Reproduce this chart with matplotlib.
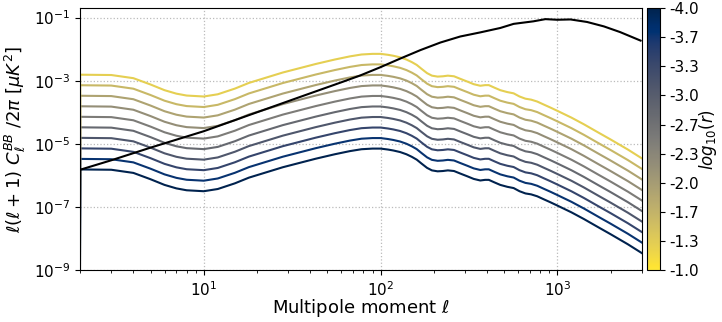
import numpy as np
import matplotlib
matplotlib.use("Agg")
import matplotlib.pyplot as plt
from matplotlib import cm
from matplotlib.colors import Normalize
from matplotlib.ticker import NullLocator

# multipoles for the primordial (tensor) B-mode template, ell=1 has no power
ell_tensor = [1, 2, 3, 4, 5, 6, 7, 8, 10, 12, 15, 18, 28, 43, 55, 67, 78, 90, 100,
              110, 118, 129, 140, 150, 160, 170, 183, 195, 210, 225, 240, 260, 282,
              310, 336, 366, 390, 409, 440, 475, 520, 565, 610, 659, 710, 768, 840,
              912, 995, 1200, 1410, 1700, 1995, 2500, 3000]
# log10 of l(l+1)C_l/2pi for r = 0.1
logdl_tensor_r01 = [None, -2.81, -2.82, -2.92, -3.12, -3.30, -3.41, -3.47, -3.50,
                    -3.43, -3.25, -3.07, -2.74, -2.47, -2.33, -2.23, -2.17, -2.15,
                    -2.15, -2.18, -2.21, -2.26, -2.33, -2.41, -2.50, -2.62, -2.76,
                    -2.84, -2.87, -2.86, -2.84, -2.86, -2.94, -3.03, -3.11, -3.16,
                    -3.14, -3.14, -3.22, -3.30, -3.36, -3.40, -3.50, -3.57, -3.60,
                    -3.66, -3.76, -3.85, -3.95, -4.17, -4.38, -4.64, -4.86, -5.18,
                    -5.46]

# lensing B-modes
ell_lens = [1, 2, 3, 5, 10, 20, 40, 60, 77, 99, 129, 168, 218, 282, 366, 475, 565,
            730, 855, 995, 1185, 1470, 1830, 2260, 2950]
logdl_lens = [None, -5.82, -5.52, -5.12, -4.60, -4.00, -3.40, -3.05, -2.83, -2.58,
              -2.30, -2.03, -1.79, -1.60, -1.47, -1.33, -1.20, -1.12, -1.05, -1.07,
              -1.06, -1.14, -1.28, -1.46, -1.73]

log_r = np.linspace(-4, -1, 10)
y_ticks = [1e-9, 1e-7, 1e-5, 1e-3, 1e-1]


def to_dl(logs):
    return np.array([0.0 if v is None else 10 ** v for v in logs])


dl_r01 = to_dl(logdl_tensor_r01)
dl_lens = to_dl(logdl_lens)

fig = plt.figure(figsize=(7.22, 3.22), dpi=100)
ax = fig.add_axes([0.111, 0.161, 0.778, 0.814])
cax = fig.add_axes([0.896, 0.161, 0.018, 0.814])

norm = Normalize(vmin=-4, vmax=-1)
cmap = plt.get_cmap("cividis")
colors = cmap(np.arange(len(log_r)) / len(log_r))

for lr, c in zip(log_r, colors):
    ax.plot(ell_tensor, dl_r01 * 10 ** lr / 0.1, color=c, lw=1.5)
ax.plot(ell_lens, dl_lens, color="black", lw=1.5)

ax.set_xscale("log")
ax.set_yscale("log")
ax.set_xlim(2, 3000)
ax.set_ylim(1e-9, 0.2)
ax.set_yticks(y_ticks)
ax.yaxis.set_minor_locator(NullLocator())
ax.grid(True, which="major", ls=":", color="#bbbbbb", lw=0.9)
ax.tick_params(labelsize=11)
ax.set_xlabel(r"Multipole moment $\ell$", fontsize=13, labelpad=-1)
ax.set_ylabel(r"$\ell(\ell+1)\ C_\ell^{BB}\ /2\pi\ [\mu K^2]$", fontsize=13)

sm = cm.ScalarMappable(norm=norm, cmap=cmap)
cb = fig.colorbar(sm, cax=cax, ticks=log_r)
cb.ax.set_yticklabels(["%.1f" % v for v in log_r])
cb.ax.invert_yaxis()
cb.ax.tick_params(labelsize=11)
cb.set_label(r"$log_{10}(r)$", fontsize=12, labelpad=-2)

fig.savefig("out.png", dpi=100)
